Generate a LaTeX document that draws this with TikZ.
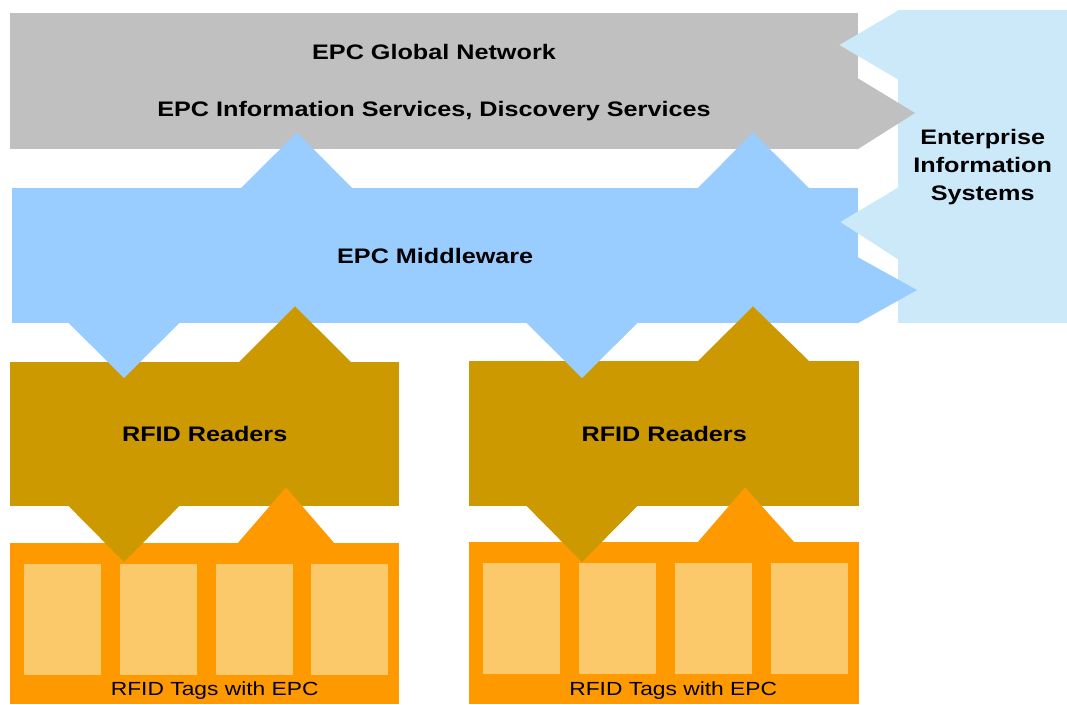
\documentclass[tikz,border=0pt]{standalone}
\usepackage{fontspec}
\setmainfont{Liberation Sans}[FakeStretch=1.2]
\usetikzlibrary{calc}

\definecolor{netgray}{HTML}{C0C0C0}
\definecolor{mwblue}{HTML}{99CCFF}
\definecolor{eisblue}{HTML}{CCE9FA}
\definecolor{readgold}{HTML}{CC9900}
\definecolor{tagorange}{HTML}{FF9900}
\definecolor{tagcell}{HTML}{FCC96A}

\begin{document}
\begin{tikzpicture}[x=1pt, y=-1pt,
    layer/.style={rectangle, inner sep=0pt, anchor=north west, align=center,
        font=\bfseries\fontsize{21}{28}\selectfont},
    title/.style={inner sep=0pt, font=\bfseries\fontsize{21}{28}\selectfont},
    tagtext/.style={inner sep=0pt, font=\fontsize{19}{23}\selectfont},
    cell/.style={rectangle, inner sep=0pt, anchor=north west, fill=tagcell,
        minimum width=77pt, minimum height=111pt}]

    \useasboundingbox (0,0) rectangle (1067,704);

    % layers (y runs downwards)
    \node[layer, fill=netgray, minimum width=848pt, minimum height=136pt] (gnet) at (10,13) {};
    \node[title] (gtitle) at (434,52) {EPC Global Network};
    \node[title] (gsub) at (434,111) {EPC Information Services, Discovery Services};
    \node[layer, fill=mwblue, minimum width=846pt, minimum height=135pt] (mw) at (12,188) {EPC Middleware};
    \node[layer, fill=eisblue, minimum width=169pt, minimum height=313pt] (eis) at (898,10) {Enterprise\\Information\\Systems};

    \node[layer, fill=readgold, minimum width=389pt, minimum height=144pt] (rdA) at (10,362) {RFID Readers};
    \node[layer, fill=readgold, minimum width=390pt, minimum height=145pt] (rdB) at (469,361) {RFID Readers};

    \node[layer, fill=tagorange, minimum width=389pt, minimum height=161pt] (tgA) at (10,543) {};
    \node[layer, fill=tagorange, minimum width=390pt, minimum height=162pt] (tgB) at (469,542) {};
    \foreach \i in {0,...,3} {
        \node[cell] (cellA\i) at ($(tgA.north west)+(14+95.7*\i,21)$) {};
        \node[cell] (cellB\i) at ($(tgB.north west)+(14+96*\i,21)$) {};
    }
    \node[tagtext] (tgAlbl) at ($(tgA.south)+(10,-14)$) {RFID Tags with EPC};
    \node[tagtext] (tgBlbl) at ($(tgB.south)+(9,-14)$) {RFID Tags with EPC};

    % middleware <-> network
    \fill[mwblue] ($(mw.north west)+(228,1)$) -- ($(gnet.south west)+(287,-17)$) -- ($(mw.north west)+(341,1)$) -- cycle;
    \fill[mwblue] ($(mw.north west)+(685,1)$) -- ($(gnet.south west)+(743,-17)$) -- ($(mw.north west)+(798,1)$) -- cycle;
    % middleware <-> readers
    \fill[mwblue] ($(mw.south west)+(56,-1)$) -- ($(rdA.north west)+(114,16)$) -- ($(mw.south west)+(168,-1)$) -- cycle;
    \fill[mwblue] ($(mw.south west)+(514,-1)$) -- ($(rdB.north west)+(113,17)$) -- ($(mw.south west)+(626,-1)$) -- cycle;
    \fill[readgold] ($(rdA.north west)+(228,1)$) -- ($(mw.south west)+(283,-17)$) -- ($(rdA.north west)+(342,1)$) -- cycle;
    \fill[readgold] ($(rdB.north west)+(228,1)$) -- ($(mw.south west)+(741,-17)$) -- ($(rdB.north west)+(341,1)$) -- cycle;
    % readers <-> tags
    \fill[readgold] ($(rdA.south west)+(58,-1)$) -- ($(tgA.north west)+(114,19)$) -- ($(rdA.south west)+(170,-1)$) -- cycle;
    \fill[readgold] ($(rdB.south west)+(57,-1)$) -- ($(tgB.north west)+(113,20)$) -- ($(rdB.south west)+(169,-1)$) -- cycle;
    \fill[tagorange] ($(tgA.north west)+(227,1)$) -- ($(rdA.south west)+(276,-19)$) -- ($(tgA.north west)+(325,1)$) -- cycle;
    \fill[tagorange] ($(tgB.north west)+(228,1)$) -- ($(rdB.south west)+(276,-19)$) -- ($(tgB.north west)+(326,1)$) -- cycle;
    % enterprise systems
    \fill[netgray] ($(gnet.north east)+(-1,65)$) -- ($(eis.north west)+(17,103)$) -- ($(gnet.south east)+(-1,0)$) -- cycle;
    \fill[mwblue] ($(mw.north east)+(-1,69)$) -- ($(eis.north west)+(19,280)$) -- ($(mw.south east)+(-1,0)$) -- cycle;
    \fill[eisblue] ($(eis.north west)+(1,0)$) -- ($(gnet.north east)+(-19,32)$) -- ($(eis.north west)+(1,70)$) -- cycle;
    \fill[eisblue] ($(eis.north west)+(1,177)$) -- ($(mw.north east)+(-18,34)$) -- ($(eis.north west)+(1,250)$) -- cycle;
\end{tikzpicture}
\end{document}
